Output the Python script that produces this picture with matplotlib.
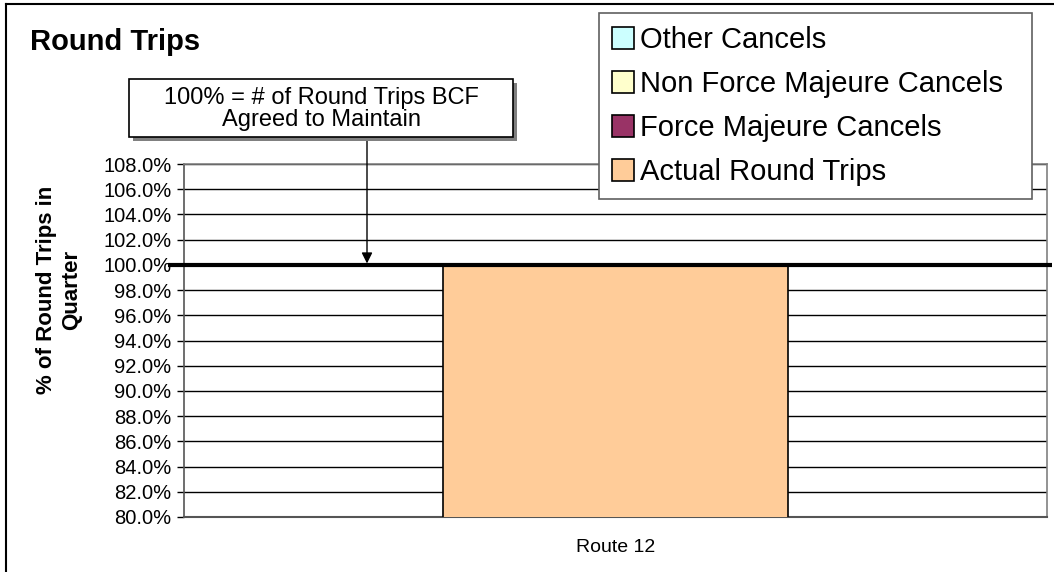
import matplotlib
matplotlib.use("Agg")
import matplotlib.pyplot as plt
from matplotlib.patches import Patch, Rectangle
from matplotlib.lines import Line2D

plt.rcParams['font.family'] = ['Liberation Sans', 'DejaVu Sans']

# ---- data ----
categories = ["Route 12"]
actual_round_trips = [100.0]
force_majeure_cancels = [0.0]
non_force_majeure_cancels = [0.0]
other_cancels = [0.0]
target_pct = 100.0
series_names = ["Actual Round Trips", "Force Majeure Cancels",
                "Non Force Majeure Cancels", "Other Cancels"]
series_colors = ["#FFCC99", "#993366", "#FFFFCC", "#CCFFFF"]
y_ticks = [80, 82, 84, 86, 88, 90, 92, 94, 96, 98, 100, 102, 104, 106, 108]
title = "Round Trips"
y_label = "% of Round Trips in\nQuarter"
note = "100% = # of Round Trips BCF\nAgreed to Maintain"

W, H = 1054, 572
fig = plt.figure(figsize=(W / 100, H / 100), dpi=100)

def fx(px):
    return px / W

def fy(py):
    return 1 - py / H

ax = fig.add_axes([fx(184), fy(517), fx(1047) - fx(184), fy(164) - fy(517)])

series_values = [actual_round_trips, force_majeure_cancels,
                 non_force_majeure_cancels, other_cancels]
x = list(range(len(categories)))
bottom = [0.0] * len(categories)
for vals, col in zip(series_values, series_colors):
    ax.bar(x, vals, bottom=bottom, width=0.4, color=col, edgecolor="black",
           linewidth=1.2, zorder=3)
    bottom = [b + v for b, v in zip(bottom, vals)]

ax.set_xlim(-0.5, 0.5)
ax.set_ylim(80, 108)
ax.set_yticks(y_ticks)
ax.set_yticklabels([f"{v:.1f}%" for v in y_ticks], fontsize=14.5)
ax.set_xticks(x)
ax.set_xticklabels(categories, fontsize=14)
ax.tick_params(axis='x', length=0, pad=16)
ax.tick_params(axis='y', length=5, width=1, direction='out', pad=4)
ax.yaxis.grid(True, color="black", linewidth=1.0, zorder=0)
ax.set_axisbelow(True)
for side in ["top", "right"]:
    ax.spines[side].set_color("#808080")
    ax.spines[side].set_linewidth(1.2)
ax.spines["left"].set_color("#555555")
ax.spines["bottom"].set_color("#555555")
ax.spines["left"].set_linewidth(1.2)
ax.spines["bottom"].set_linewidth(1.5)

# y-axis title (positioned as in the reference, above the axis centre)
fig.text(fx(59), fy(290), y_label, fontsize=16, fontweight="bold",
         rotation=90, ha="center", va="center", linespacing=1.3,
         multialignment="center")

# 100% target line
ax.plot([-0.0185, 1.006], [target_pct, target_pct], color="black", linewidth=3,
        transform=ax.get_yaxis_transform(), clip_on=False, zorder=5,
        solid_capstyle="butt")

# title
fig.text(fx(30), fy(42), title, fontsize=21, fontweight="bold",
         ha="left", va="center")

# annotation box with shadow
bx0, bx1, by0, by1 = 129, 513, 79, 137
fig.patches.append(Rectangle((fx(bx0 + 4), fy(by1 + 4)), fx(bx1) - fx(bx0),
                             fy(by0) - fy(by1), transform=fig.transFigure,
                             facecolor="#808080", edgecolor="none", zorder=1))
fig.patches.append(Rectangle((fx(bx0), fy(by1)), fx(bx1) - fx(bx0),
                             fy(by0) - fy(by1), transform=fig.transFigure,
                             facecolor="white", edgecolor="black",
                             linewidth=1.2, zorder=2))
fig.text(fx((bx0 + bx1) / 2), fy((by0 + by1) / 2 + 1), note, fontsize=17,
         ha="center", va="center", linespacing=1.05, zorder=3)

ax.annotate("", xy=((367 - 184) / 863, target_pct),
            xycoords=("axes fraction", "data"),
            xytext=(fx(367), fy(by1)), textcoords="figure fraction",
            arrowprops=dict(arrowstyle="-|>", color="black", lw=1.0,
                            mutation_scale=16, shrinkA=0, shrinkB=1),
            annotation_clip=False)

# legend
handles = [Patch(facecolor=c, edgecolor="black", linewidth=1.2)
           for c in series_colors][::-1]
labels = series_names[::-1]
leg = fig.legend(handles, labels, loc="upper left",
                 bbox_to_anchor=(fx(599), fy(193), fx(1032) - fx(599), fy(13) - fy(193)),
                 bbox_transform=fig.transFigure, mode="expand",
                 fontsize=21, frameon=True, fancybox=False, framealpha=1,
                 handlelength=0.75, handleheight=0.75, handletextpad=0.2,
                 labelspacing=0.55, borderpad=0.45, borderaxespad=0)
leg.get_frame().set_edgecolor("#606060")
leg.get_frame().set_linewidth(1.2)
leg.set_zorder(10)

# outer frame (top and left edges visible)
fig.lines.append(Line2D([fx(6), fx(6)], [0, fy(4)], transform=fig.transFigure,
                        color="black", linewidth=1.5))
fig.lines.append(Line2D([fx(6), 1], [fy(4), fy(4)], transform=fig.transFigure,
                        color="black", linewidth=1.5))

fig.savefig("out.png", dpi=100, facecolor="white")
